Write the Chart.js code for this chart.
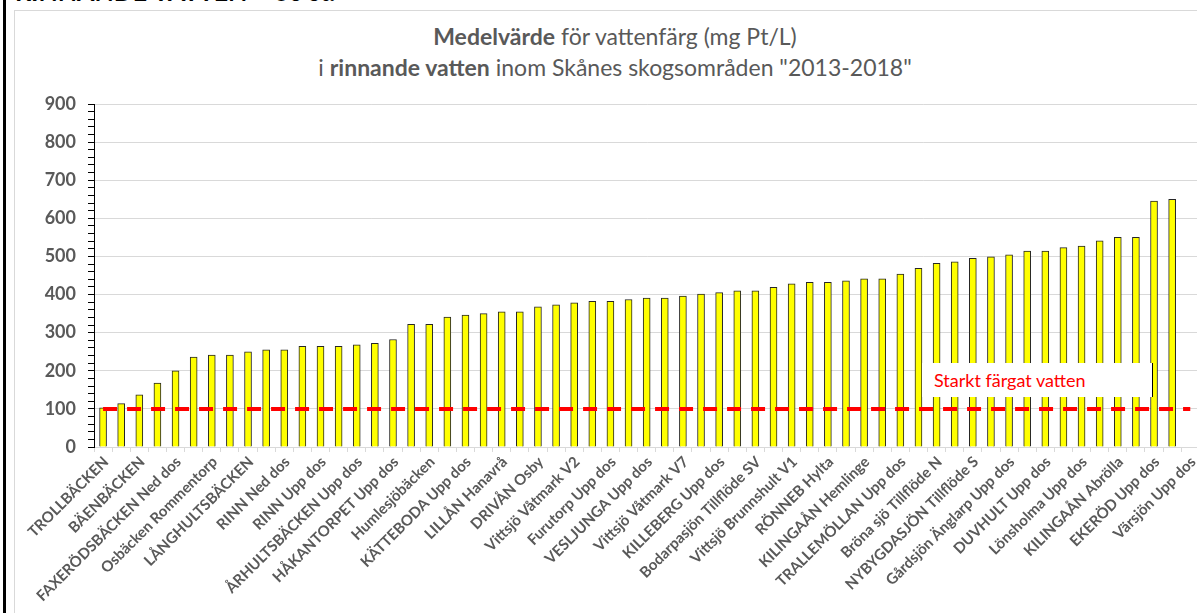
<!DOCTYPE html>
<html>
<head>
<meta charset="utf-8">
<script src="https://cdn.jsdelivr.net/npm/chart.js@4.4.1/dist/chart.umd.min.js"></script>
<style>
  html, body { margin: 0; padding: 0; background: #fff; }
  body { width: 1197px; height: 613px; overflow: hidden; position: relative; font-family: Lato, "Open Sans", sans-serif; }
  #edge { position: absolute; left: 3px; top: 0; width: 3px; height: 613px; background: #000; }
  #heading { position: absolute; left: 15px; top: -22px; font-size: 25px; line-height: 26px; font-weight: bold; color: #000; white-space: nowrap; }
  #frame { position: absolute; left: 14px; top: 10px; width: 1300px; height: 700px; border-top: 1px solid #d9d9d9; border-left: 1px solid #d9d9d9; }
  #title { position: absolute; left: 0; top: 21px; width: 1230px; text-align: center; color: #595959; font-size: 23px; line-height: 31px; white-space: nowrap; }
  #wrap { position: absolute; left: 14px; top: 10px; width: 1190px; height: 603px; }
  #note { position: absolute; left: 922px; top: 363px; width: 231px; height: 34px; background: #fff; border-right: 1px solid #000;
          color: #ff0000; font-size: 18px; line-height: 34px; padding-left: 12px; box-sizing: border-box; white-space: nowrap; }
</style>
</head>
<body>
<div id="edge"></div>
<div id="heading">RINNANDE VATTEN – 60 st.</div>
<div id="frame"></div>
<div id="title"><b>Medelvärde</b> för vattenfärg (mg Pt/L)<br>i <b>rinnande vatten</b> inom Skånes skogsområden "2013-2018"</div>
<div id="wrap"><canvas id="chart"></canvas></div>
<div id="note">Starkt färgat vatten</div>
<script>
// every second station name is printed on the axis
const tickLabels = [
  "TROLLBÄCKEN", "BÄENBÄCKEN", "FAXERÖDSBÄCKEN Ned dos", "Osbäcken Rommentorp",
  "LÅNGHULTSBÄCKEN", "RINN Ned dos", "RINN Upp dos", "ÅRHULTSBÄCKEN Upp dos",
  "HÅKANTORPET Upp dos", "Humlesjöbäcken", "KÄTTEBODA Upp dos", "LILLÅN Hanavrå",
  "DRIVÅN Osby", "Vittsjö Våtmark V2", "Furutorp Upp dos", "VESLJUNGA Upp dos",
  "Vittsjö Våtmark V7", "KILLEBERG Upp dos", "Bodarpasjön Tillflöde SV", "Vittsjö Brunnshult V1",
  "RÖNNEB Hylta", "KILINGAÅN Hemlinge", "TRALLEMÖLLAN Upp dos", "Bröna sjö Tillflöde N",
  "NYBYGDASJÖN Tillflöde S", "Gårdsjön Änglarp Upp dos", "DUVHULT Upp dos", "Lönsholma Upp dos",
  "KILINGAÅN Abrölla", "EKERÖD Upp dos", "Värsjön Upp dos"
];

// mean water colour, mg Pt/L
const colourMeans = [
  103, 114, 137, 168, 200, 236, 241, 241, 250, 255,
  255, 264, 264, 264, 268, 272, 282, 322, 322, 341,
  346, 350, 355, 355, 368, 373, 378, 382, 382, 387,
  391, 391, 396, 401, 405, 410, 410, 419, 428, 432,
  432, 436, 441, 441, 454, 469, 482, 486, 495, 499,
  504, 514, 514, 523, 527, 541, 550, 550, 645, 650,
  null
];

const strongLimit = 100; // "Starkt färgat vatten"
const yMax = 900;

const categories = colourMeans.map((v, i) => (i % 2 === 0 ? tickLabels[i / 2] : ""));
const axisFont = { family: "Lato", weight: "bold" };

new Chart(document.getElementById("chart"), {
  type: "bar",
  data: {
    labels: categories,
    datasets: [
      {
        type: "line",
        data: categories.map(() => strongLimit),
        borderColor: "#ff0000",
        borderWidth: 4,
        borderDash: [14, 10],
        pointRadius: 0,
        order: 0,
      },
      {
        data: colourMeans,
        backgroundColor: "#ffff00",
        borderColor: "#262626",
        borderWidth: 1,
        barThickness: 7,
        order: 1,
      },
    ],
  },
  options: {
    responsive: true,
    maintainAspectRatio: false,
    animation: false,
    layout: { padding: { top: 94, left: 0, right: 0, bottom: 0 } },
    plugins: { legend: { display: false }, tooltip: { enabled: false }, title: { display: false } },
    scales: {
      x: {
        grid: { drawOnChartArea: false, drawTicks: true, tickLength: 5, tickColor: "#d9d9d9" },
        border: { color: "#d9d9d9", width: 1 },
        ticks: {
          autoSkip: false,
          maxRotation: 45,
          minRotation: 45,
          padding: 1,
          labelOffset: 3,
          color: "#595959",
          font: { ...axisFont, size: 15 },
        },
        afterFit: (s) => { s.height = 166; },
      },
      y: {
        min: 0,
        max: yMax,
        grid: {
          color: (c) => (c.tick && c.tick.value % 100 === 0 ? "#d9d9d9" : "rgba(0,0,0,0)"),
          tickColor: "#000",
          tickLength: 6,
        },
        border: { color: "#000", width: 1 },
        ticks: {
          stepSize: 20,
          autoSkip: false,
          padding: 12,
          color: "#595959",
          font: { ...axisFont, size: 18 },
          callback: (v) => (v % 100 === 0 ? v : ""),
        },
        afterFit: (s) => { s.width = 80; },
      },
    },
  },
});
</script>
</body>
</html>
